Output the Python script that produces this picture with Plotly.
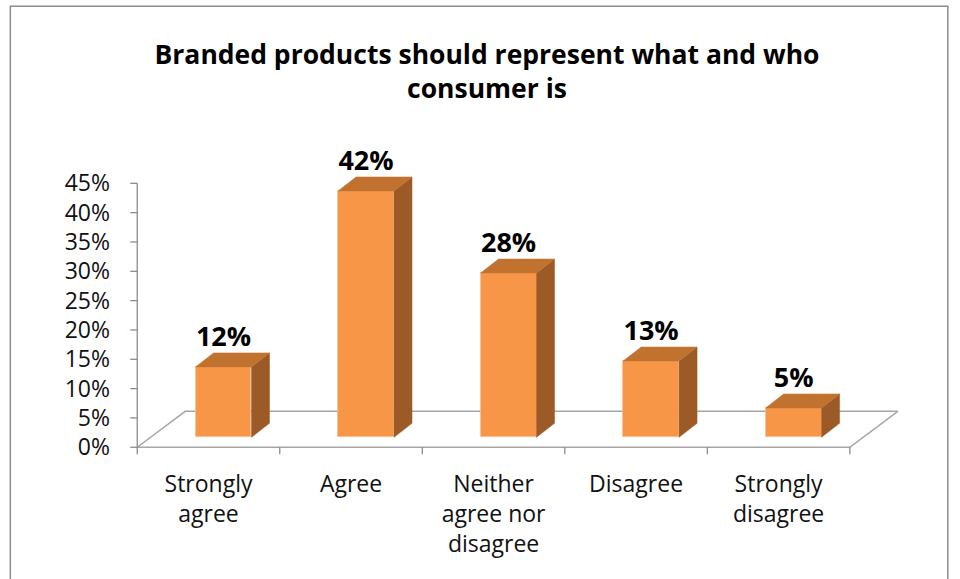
import plotly.graph_objects as go

# ---- data ----
categories = ["Strongly<br>agree", "Agree", "Neither<br>agree nor<br>disagree", "Disagree", "Strongly<br>disagree"]
values = [0.12, 0.42, 0.28, 0.13, 0.05]
value_labels = ["12%", "42%", "28%", "13%", "5%"]
y_tick_vals = [0, 0.05, 0.10, 0.15, 0.20, 0.25, 0.30, 0.35, 0.40, 0.45]
y_tick_text = ["0%", "5%", "10%", "15%", "20%", "25%", "30%", "35%", "40%", "45%"]
title_text = "Branded products should represent what and who<br>consumer is"

# ---- geometry (pixels) ----
W, H = 960, 579
x0_px, x5_px = 137, 850          # front floor edge
y0_px, y45_px = 447, 183         # 0% and 45%
ux = (x5_px - x0_px) / 5.0       # px per category unit
uy = (y0_px - y45_px) / 0.45     # px per 1.0 of value

xmin, xmax = -0.1, 5.45
ymin, ymax = -0.02, 0.5
ml = x0_px + xmin * ux
mr = W - (x0_px + xmax * ux)
mb = H - (y0_px - ymin * uy)
mt = y0_px - ymax * uy

# 3D offsets
floor_dx, floor_dy = 48 / ux, 36 / uy
bar_shift_x, bar_shift_y = 15 / ux, 10 / uy
bar_w = 56 / ux
dep_x, dep_y = 18 / ux, 14 / uy

FRONT = "#F79646"
TOP = "#C2722F"
SIDE = "#9C5A27"
AXIS = "#8C8C8C"
FONT = "Open Sans"

n = len(values)
xc = [i + 0.5 for i in range(n)]

fig = go.Figure()

# floor outline
fx = [0, n, n + floor_dx, floor_dx, 0]
fy = [0, 0, floor_dy, floor_dy, 0]
fig.add_trace(go.Scatter(x=fx, y=fy, mode="lines", line=dict(color="#A6A6A6", width=1.5),
                         hoverinfo="skip", showlegend=False))
# y axis line + ticks
tl = 7 / ux
yx, yy = [0, 0], [0, 0.45]
for v in y_tick_vals:
    yx += [None, -tl, 0]
    yy += [None, v, v]
fig.add_trace(go.Scatter(x=yx, y=yy, mode="lines", line=dict(color=AXIS, width=1.3),
                         hoverinfo="skip", showlegend=False))
# category tick marks
tk = 7 / uy
cx, cy = [], []
for i in range(n + 1):
    cx += [i, i, None]
    cy += [0, -tk, None]
fig.add_trace(go.Scatter(x=cx, y=cy, mode="lines", line=dict(color=AXIS, width=1.3),
                         hoverinfo="skip", showlegend=False))

# bars (front faces)
fig.add_trace(go.Bar(x=xc, y=values, width=bar_w, marker=dict(color=FRONT, line=dict(color="#FAB98A", width=0.8)),
                     xaxis="x2", yaxis="y2", showlegend=False, hoverinfo="skip"))
# side & top faces
for x, v in zip(xc, values):
    l, r = x - bar_w / 2, x + bar_w / 2
    fig.add_trace(go.Scatter(x=[r, r + dep_x, r + dep_x, r, r], y=[0, dep_y, v + dep_y, v, 0],
                             fill="toself", fillcolor=SIDE, mode="lines", line=dict(color=SIDE, width=0.5),
                             xaxis="x2", yaxis="y2", showlegend=False, hoverinfo="skip"))
    fig.add_trace(go.Scatter(x=[l, l + dep_x, r + dep_x, r, l], y=[v, v + dep_y, v + dep_y, v, v],
                             fill="toself", fillcolor=TOP, mode="lines", line=dict(color=TOP, width=0.5),
                             xaxis="x2", yaxis="y2", showlegend=False, hoverinfo="skip"))
# value labels
fig.add_trace(go.Scatter(x=xc, y=[v + dep_y for v in values], text=value_labels,
                         mode="text", textposition="top center", cliponaxis=False,
                         textfont=dict(family=FONT, size=27, color="#000000", weight="bold"),
                         xaxis="x2", yaxis="y2", showlegend=False, hoverinfo="skip"))

pw = W - ml - mr
ph = H - mt - mb
fig.update_layout(
    width=W, height=H, autosize=False,
    margin=dict(l=ml, r=mr, t=mt, b=mb, pad=0),
    paper_bgcolor="white", plot_bgcolor="white",
    font=dict(family=FONT, size=23, color="#111111"),
    title=dict(text=title_text, x=487 / W, xref="container", xanchor="center",
               y=1 - 64 / H, yref="container", yanchor="middle",
               font=dict(family=FONT, size=26.5, color="#000000", weight="bold")),
    xaxis=dict(range=[xmin, xmax], showgrid=False, zeroline=False, showline=False,
               tickvals=xc, ticktext=categories, ticks="", ticklabelstandoff=9,
               tickfont=dict(size=23)),
    yaxis=dict(range=[ymin, ymax], showgrid=False, zeroline=False, showline=False,
               tickvals=y_tick_vals, ticktext=y_tick_text, ticks="", ticklabelstandoff=12,
               tickfont=dict(size=23)),
    xaxis2=dict(range=[xmin - bar_shift_x, xmax - bar_shift_x], overlaying="x", visible=False),
    yaxis2=dict(range=[ymin - bar_shift_y, ymax - bar_shift_y], overlaying="y", visible=False),
    bargap=0,
    shapes=[dict(type="rect", xref="paper", yref="paper",
                 x0=(10 - ml) / pw, x1=(948 - ml) / pw,
                 y0=-(mb + 30) / ph, y1=(H - mb - 6) / ph,
                 line=dict(color="#8C8C8C", width=1.5), fillcolor="rgba(0,0,0,0)", layer="below")],
)

fig.write_html("out.html", config={"displayModeBar": False},
               post_script="document.body.style.margin='0';document.body.style.overflow='hidden';")
